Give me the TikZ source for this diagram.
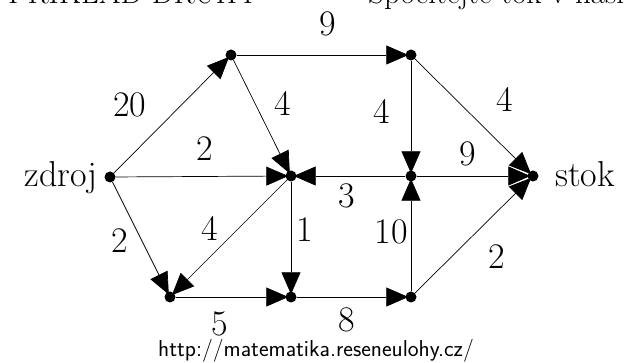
\documentclass[tikz,border=0pt]{standalone}
\usetikzlibrary{arrows.meta}
\begin{document}
\begin{tikzpicture}[x=1pt,y=-1pt,
  dotnode/.style={circle,fill=black,inner sep=0pt,minimum size=11pt},
  conn/.style={line width=0.7pt,-{Triangle[length=22pt,width=19pt]},shorten >=-3pt},
  lbl/.style={font=\fontsize{36}{40}\selectfont,inner sep=0pt},
  endtext/.style={font=\fontsize{36}{40}\selectfont,inner sep=0pt}]
\useasboundingbox (0,0) rectangle (625,363);
\begin{scope}
\clip (0,0) rectangle (625,363);
\node[anchor=base west,inner sep=0pt,font=\fontsize{31}{36}\selectfont] (title1) at (8,4) {PŘÍKLAD DRUHÝ};
\node[anchor=base west,inner sep=0pt,font=\fontsize{31}{36}\selectfont] (title2) at (368,4) {Spočítejte tok v následující síti};
\end{scope}
% nodes
\node[dotnode] (z) at (110,177) {};
\node[dotnode] (a) at (231,55) {};
\node[dotnode] (b) at (411,55) {};
\node[dotnode] (c) at (291,176) {};
\node[dotnode] (d) at (411,176) {};
\node[dotnode] (s) at (533,176) {};
\node[dotnode] (e) at (170,297) {};
\node[dotnode] (f) at (291,297) {};
\node[dotnode] (g) at (411,297) {};
\node[endtext,anchor=base east] (zl) at (98,187) {zdroj};
\node[endtext,anchor=base west] (sl) at (555,187) {stok};
% edges
\draw[conn] (z) -- (a);
\draw[conn] (z) -- (c);
\draw[conn] (z) -- (e);
\draw[conn] (a) -- (b);
\draw[conn] (a) -- (c);
\draw[conn] (b) -- (d);
\draw[conn] (b) -- (s);
\draw[conn] (d) -- (c);
\draw[conn] (d) -- (s);
\draw[conn] (c) -- (e);
\draw[conn] (c) -- (f);
\draw[conn] (e) -- (f);
\draw[conn] (f) -- (g);
\draw[conn] (g) -- (d);
\draw[conn] (g) -- (s);
% labels
\node[lbl] (l1) at (130,105) {20};
\node[lbl] (l2) at (205,149) {2};
\node[lbl] (l3) at (120,241) {2};
\node[lbl] (l4) at (328,24) {9};
\node[lbl] (l5) at (283,103) {4};
\node[lbl] (l6) at (382,111) {4};
\node[lbl] (l7) at (505,99) {4};
\node[lbl] (l8) at (347,196) {3};
\node[lbl] (l9) at (468,154) {9};
\node[lbl] (l10) at (210,228) {4};
\node[lbl] (l11) at (305,230) {1};
\node[lbl] (l12) at (220,324) {5};
\node[lbl] (l13) at (347,320) {8};
\node[lbl] (l14) at (391,232) {10};
\node[lbl] (l15) at (497,257) {2};
\node[anchor=base,inner sep=0pt,font=\sffamily\fontsize{23}{26}\selectfont] (url) at (316,357) {http://matematika.reseneulohy.cz/};
\end{tikzpicture}
\end{document}
